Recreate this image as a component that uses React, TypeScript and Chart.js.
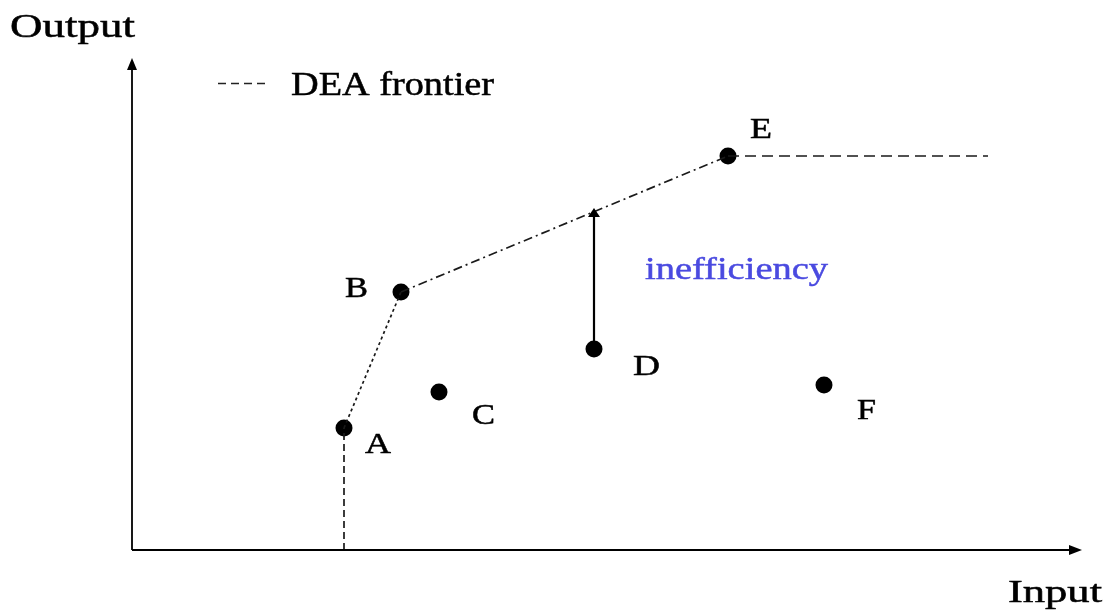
import React, { useEffect, useRef } from "react";
import { Chart, registerables } from "chart.js";

Chart.register(...registerables);

// ---- data (in plot units: input on x, output on y) ----
const pointNames = ["A", "B", "C", "D", "E", "F"];
const inputValues = [212, 269, 307, 462, 596, 692];
const outputValues = [122, 258, 158, 201, 394, 165];

// frontier: vertical drop from A, A-B, B-E, horizontal from E
const frontierDrop = [
  { x: 212, y: 0 },
  { x: 212, y: 122 },
];
const frontierAB = [
  { x: 212, y: 122 },
  { x: 269, y: 258 },
];
const frontierBE = [
  { x: 269, y: 258 },
  { x: 596, y: 394 },
];
const frontierFlat = [
  { x: 596, y: 394 },
  { x: 856, y: 394 },
];

// inefficiency arrow from D up to frontier
const arrowFrom = { x: 462, y: 201 };
const arrowTo = { x: 462, y: 342 };

const xMax = 950;
const yMax = 492;

const serif = '"Liberation Serif", "DejaVu Serif", serif';

// label styles: [dx, dy to baseline-left, targetWidth, fontSize]
const labelStyle: Record<string, [number, number, number, number]> = {
  A: [21, 25, 26, 29],
  B: [-56, 5, 23, 29],
  C: [33, 32, 23, 29],
  D: [39, 26, 27, 29],
  E: [22, -18, 22, 29],
  F: [33, 34, 19, 29],
};

function drawStretched(
  ctx: CanvasRenderingContext2D,
  text: string,
  x: number,
  y: number,
  targetWidth: number,
  size: number,
  color: string
) {
  ctx.save();
  ctx.font = `${size}px ${serif}`;
  ctx.fillStyle = color;
  ctx.strokeStyle = color;
  ctx.lineWidth = 0.5;
  ctx.textBaseline = "alphabetic";
  ctx.textAlign = "left";
  const w = ctx.measureText(text).width;
  ctx.translate(x, y);
  ctx.scale(targetWidth / w, 1);
  ctx.fillText(text, 0, 0);
  ctx.strokeText(text, 0, 0);
  ctx.restore();
}

const decorPlugin = {
  id: "decor",
  afterDatasetsDraw(chart: any) {
    const ctx: CanvasRenderingContext2D = chart.ctx;
    const xs = chart.scales.x;
    const ys = chart.scales.y;
    const px = (v: number) => xs.getPixelForValue(v);
    const py = (v: number) => ys.getPixelForValue(v);

    ctx.save();
    ctx.strokeStyle = "#000";
    ctx.fillStyle = "#000";
    ctx.lineWidth = 1.8;
    ctx.setLineDash([]);

    // axes
    const ox = px(0);
    const oy = py(0);
    const xEnd = px(xMax);
    const yEnd = py(yMax);
    ctx.beginPath();
    ctx.moveTo(ox, oy);
    ctx.lineTo(xEnd - 6, oy);
    ctx.moveTo(ox, oy);
    ctx.lineTo(ox, yEnd + 6);
    ctx.stroke();
    // x arrowhead
    ctx.beginPath();
    ctx.moveTo(xEnd, oy);
    ctx.lineTo(xEnd - 13, oy - 5);
    ctx.lineTo(xEnd - 13, oy + 5);
    ctx.closePath();
    ctx.fill();
    // y arrowhead
    ctx.beginPath();
    ctx.moveTo(ox, yEnd);
    ctx.lineTo(ox - 5, yEnd + 12);
    ctx.lineTo(ox + 5, yEnd + 12);
    ctx.closePath();
    ctx.fill();

    // inefficiency arrow
    const ax = px(arrowFrom.x);
    const tipY = py(arrowTo.y);
    ctx.lineWidth = 2.2;
    ctx.beginPath();
    ctx.moveTo(ax, py(arrowFrom.y));
    ctx.lineTo(ax, tipY + 6);
    ctx.stroke();
    ctx.beginPath();
    ctx.moveTo(ax, tipY);
    ctx.lineTo(ax - 6, tipY + 9);
    ctx.lineTo(ax + 6, tipY + 9);
    ctx.closePath();
    ctx.fill();

    // legend dash sample
    ctx.strokeStyle = "#222";
    ctx.lineWidth = 1.3;
    ctx.setLineDash([8, 5]);
    ctx.beginPath();
    ctx.moveTo(218, 83.5);
    ctx.lineTo(266, 83.5);
    ctx.stroke();
    ctx.restore();

    // texts
    drawStretched(ctx, "Output", 10, 37, 125, 34, "#000");
    drawStretched(ctx, "DEA frontier", 291, 95, 203, 33, "#000");
    drawStretched(ctx, "Input", 1008, 602, 94, 31, "#000");
    drawStretched(ctx, "inefficiency", 645, 279, 183, 32, "#4a4ae0");

    pointNames.forEach((name, i) => {
      const s = labelStyle[name];
      const x = px(inputValues[i]);
      const y = py(outputValues[i]);
      drawStretched(ctx, name, x + s[0], y + s[1], s[2], s[3], "#000");
    });
  },
};

export default function App() {
  const ref = useRef<HTMLCanvasElement | null>(null);
  useEffect(() => {
    if (!ref.current) return;
    const lineDs = (data: any[], dash: number[]) => ({
      type: "line" as const,
      data,
      showLine: true,
      borderColor: "#1a1a1a",
      borderWidth: 1.7,
      borderDash: dash,
      pointRadius: 0,
      fill: false,
      clip: false as any,
    });
    const chart = new Chart(ref.current, {
      type: "scatter",
      data: {
        datasets: [
          lineDs(frontierDrop, [7, 4]) as any,
          lineDs(frontierAB, [3, 3]) as any,
          lineDs(frontierBE, [9, 4, 2, 4]) as any,
          lineDs(frontierFlat, [11, 6]) as any,
          {
            data: inputValues.map((x, i) => ({ x, y: outputValues[i] })),
            pointRadius: 8.5,
            pointBackgroundColor: "#000",
            pointBorderColor: "#000",
            pointBorderWidth: 0,
            showLine: false,
            clip: false as any,
          },
        ],
      },
      options: {
        responsive: false,
        animation: false,
        events: [],
        layout: {
          padding: { left: 132, right: 30, top: 58, bottom: 63 },
        },
        plugins: {
          legend: { display: false },
          tooltip: { enabled: false },
        },
        scales: {
          x: { type: "linear", min: 0, max: xMax, display: false },
          y: { type: "linear", min: 0, max: yMax, display: false },
        },
      },
      plugins: [decorPlugin],
    });
    return () => chart.destroy();
  }, []);
  return (
    <div
      style={{
        position: "fixed",
        left: 0,
        top: 0,
        width: 1112,
        height: 613,
        background: "#fff",
      }}
    >
      <canvas ref={ref} width={1112} height={613} />
    </div>
  );
}
